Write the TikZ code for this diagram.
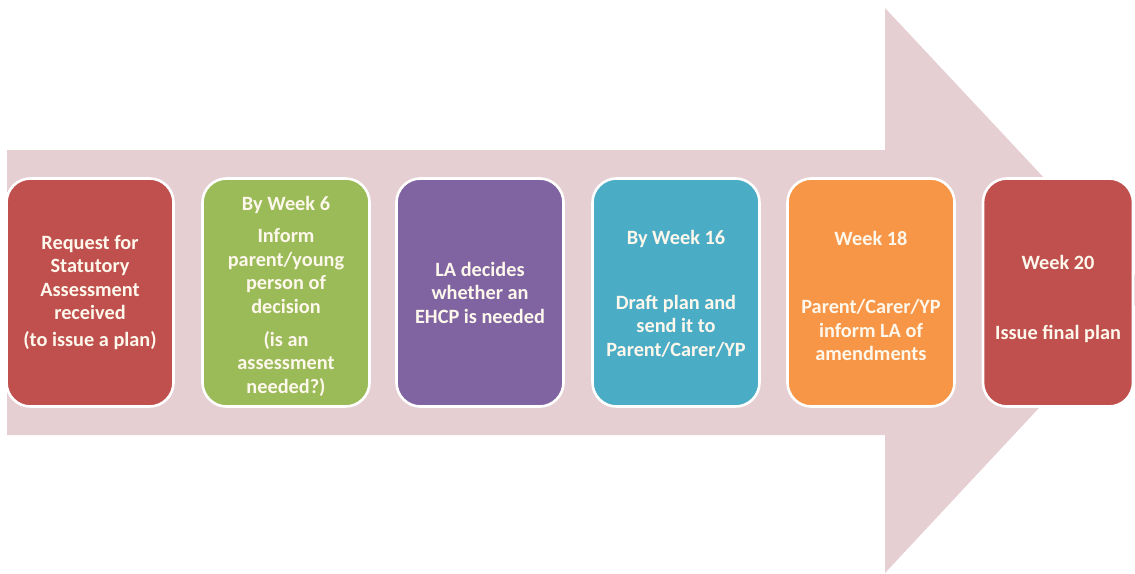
\documentclass[tikz,border=0pt]{standalone}
\usepackage{fontspec}
\setmainfont{Carlito}
\definecolor{arrowfill}{RGB}{230,207,211}
\definecolor{stepred}{RGB}{192,80,77}
\definecolor{stepgreen}{RGB}{155,187,89}
\definecolor{steppurple}{RGB}{128,100,162}
\definecolor{stepteal}{RGB}{75,172,198}
\definecolor{steporange}{RGB}{247,150,70}
\definecolor{steptext}{RGB}{253,247,236}
\tikzset{
  stepbox/.style={draw=white, line width=2.6pt, rounded corners=24pt,
    minimum width=167pt, minimum height=228pt, inner sep=0pt},
  steplabel/.style={text=steptext, align=center, font=\fontsize{20.3}{23.5}\selectfont\bfseries}
}
\begin{document}
\begin{tikzpicture}[x=1pt, y=-1pt]
\useasboundingbox (0,0) rectangle (1135,573);
\begin{scope}
\clip (0,0) rectangle (1135,573);
% large background arrow
\fill[arrowfill] (7,150) -- (885,150) -- (885,8) -- (1149,290) -- (885,573)
  -- (885,435) -- (7,435) -- cycle;
\end{scope}
% process steps
\node[stepbox, fill=stepred]    (s1) at (90,292.5)  {};
\node[stepbox, fill=stepgreen]  (s2) at (286,292.5) {};
\node[stepbox, fill=steppurple] (s3) at (480,292.5) {};
\node[stepbox, fill=stepteal]   (s4) at (676,292.5) {};
\node[stepbox, fill=steporange] (s5) at (871,292.5) {};
\node[stepbox, fill=stepred, minimum width=150pt] (s6) at (1058,292.5) {};
% step texts
\node[steplabel] (t1) at ([yshift=0pt]s1.center) {Request for\\Statutory\\Assessment\\received\\[3pt](to issue a plan)};
\node[steplabel] (t2) at ([yshift=-4pt]s2.center) {By Week 6\\[8.5pt]Inform\\parent/young\\person of\\decision\\[9.5pt](is an\\assessment\\needed?)};
\node[steplabel] (t3) at ([yshift=0pt]s3.center) {LA decides\\whether an\\EHCP is needed};
\node[steplabel] (t4) at ([yshift=-1.5pt]s4.center) {By Week 16\\[41pt]Draft plan and\\send it to\\Parent/Carer/YP};
\node[steplabel] (t5) at ([yshift=-3.5pt]s5.center) {Week 18\\[45pt]Parent/Carer/YP\\inform LA of\\amendments};
\node[steplabel] (t6) at ([yshift=-6.5pt]s6.center) {Week 20\\[47pt]Issue final plan};
\end{tikzpicture}
\end{document}
